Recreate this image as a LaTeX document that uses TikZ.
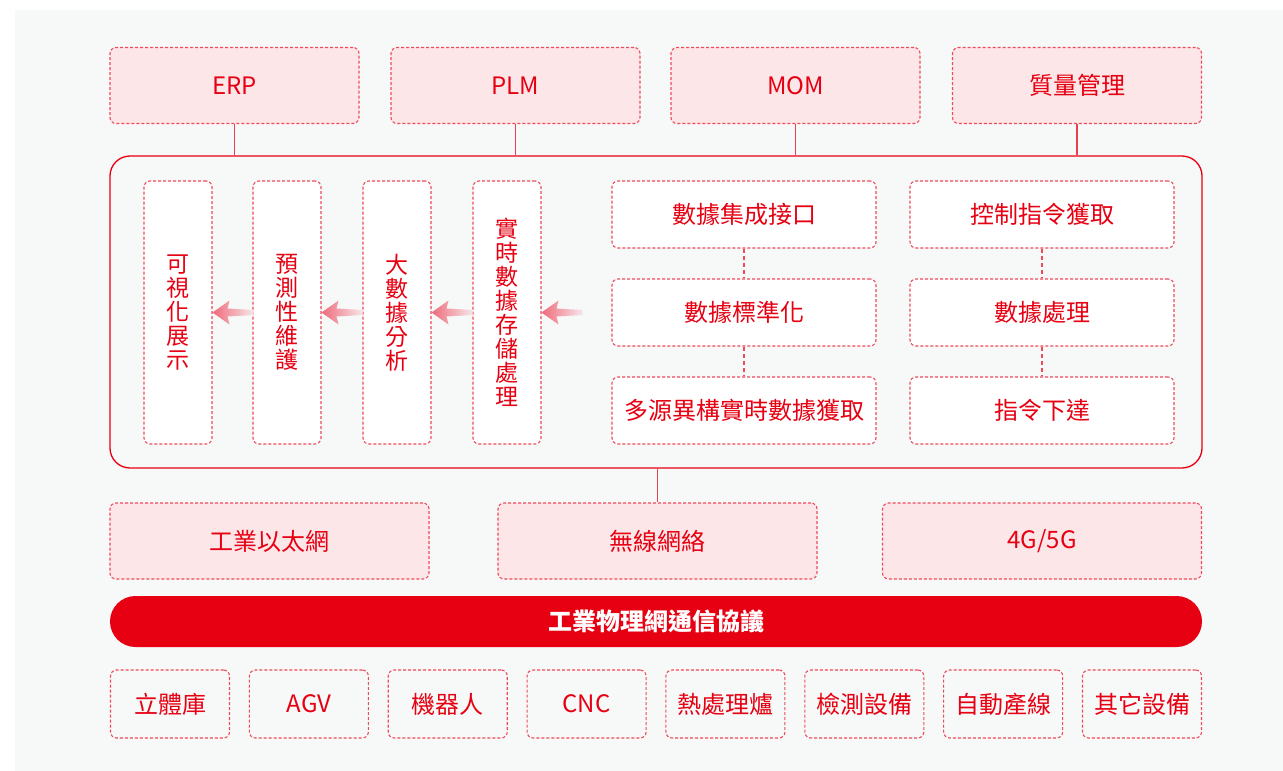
\documentclass[tikz,border=0pt]{standalone}
\usepackage{fontspec}
\setmainfont{Noto Sans CJK TC}
\usepackage{xcolor}
\usetikzlibrary{positioning, calc}

\definecolor{hred}{HTML}{E60012}
\definecolor{dline}{HTML}{EE4A5A}
\definecolor{lred}{HTML}{E8404F}
\definecolor{pinkfill}{HTML}{FDE6E8}
\definecolor{bggray}{HTML}{F7F8F8}
\definecolor{arrowred}{HTML}{EF6B7B}

\begin{document}
\begin{tikzpicture}[x=1pt, y=-1pt,
  dbox/.style={draw=dline, dash pattern=on 3pt off 2pt, line width=1.1pt, rounded corners=6pt,
    text=hred, font=\fontsize{24}{24}\selectfont, inner sep=0pt},
  topbox/.style={dbox, fill=pinkfill, minimum width=249pt, minimum height=76pt},
  netbox/.style={dbox, fill=pinkfill, minimum width=319pt, minimum height=76pt},
  vbox/.style={dbox, fill=white, minimum width=68pt, minimum height=263pt, align=center,
    font=\fontsize{23}{24}\selectfont},
  stepbox/.style={dbox, fill=white, minimum width=264pt, minimum height=67pt},
  devbox/.style={dbox, minimum width=119pt, minimum height=68pt},
  link/.style={draw=lred, line width=1.3pt},
  dlink/.style={draw=dline, line width=1.3pt, dash pattern=on 4pt off 3pt}]
\useasboundingbox (0,0) rectangle (1283,771);
\fill[bggray] (15,10) rectangle (1283,771);

% Applications
\node[topbox] (erp) at (234.5,85.5) {ERP};
\node[topbox] (plm) at (515.5,85.5) {PLM};
\node[topbox] (mom) at (795.5,85.5) {MOM};
\node[topbox] (qm) at (1077,85.5) {質量管理};

% Core platform
\node[draw=hred, line width=1.3pt, rounded corners=20pt, minimum width=1092pt, minimum height=312pt] (core) at (656,312) {};
\foreach \a in {erp, plm, mom, qm}
  \draw[link] (\a.south) -- (\a.south |- core.north);

\node[vbox] (vis) at (178,312.5) {可\\視\\化\\展\\示};
\node[vbox] (pred) at (287,312.5) {預\\測\\性\\維\\護};
\node[vbox] (bigd) at (397,312.5) {大\\數\\據\\分\\析};
\node[vbox] (store) at (507,312.5) {實\\時\\數\\據\\存\\儲\\處\\理};

% flow arrows
\foreach \t in {vis, pred, bigd, store}
  \shade[left color=arrowred, right color=arrowred!12!bggray] (\t.east) -- ++(17,-12) -- ++(-2,8)
    -- ++(26,1.5) -- ++(0,5) -- ++(-26,1.5) -- ++(2,8) -- cycle;

\node[stepbox] (integ) at (744,214.5) {數據集成接口};
\node[stepbox] (std) at (744,312.5) {數據標準化};
\node[stepbox] (acq) at (744,410.5) {多源異構實時數據獲取};
\node[stepbox] (cmd) at (1042,214.5) {控制指令獲取};
\node[stepbox] (proc) at (1042,312.5) {數據處理};
\node[stepbox] (issue) at (1042,410.5) {指令下達};
\draw[dlink] (integ) -- (std);
\draw[dlink] (std) -- (acq);
\draw[dlink] (cmd) -- (proc);
\draw[dlink] (proc) -- (issue);

% Networks
\node[netbox] (eth) at (269.5,541) {工業以太網};
\node[netbox] (wifi) at (657.5,541) {無線網絡};
\node[netbox] (mob) at (1042,541) {4G/5G};
\draw[link] (core.south -| wifi.north) -- (wifi.north);

\node[fill=hred, rounded corners=25.5pt, minimum width=1092pt, minimum height=51pt, text=white,
  font=\fontsize{24}{24}\selectfont\bfseries] (proto) at (656,621.5) {工業物理網通信協議};

% Devices
\foreach \n/\s [count=\i from 0] in {lib/立體庫, agv/AGV, robot/機器人, cnc/CNC, heat/熱處理爐,
    test/檢測設備, line/自動產線, other/其它設備}
  \node[devbox] (\n) at (170+138.86*\i,704) {\s};
\end{tikzpicture}
\end{document}
